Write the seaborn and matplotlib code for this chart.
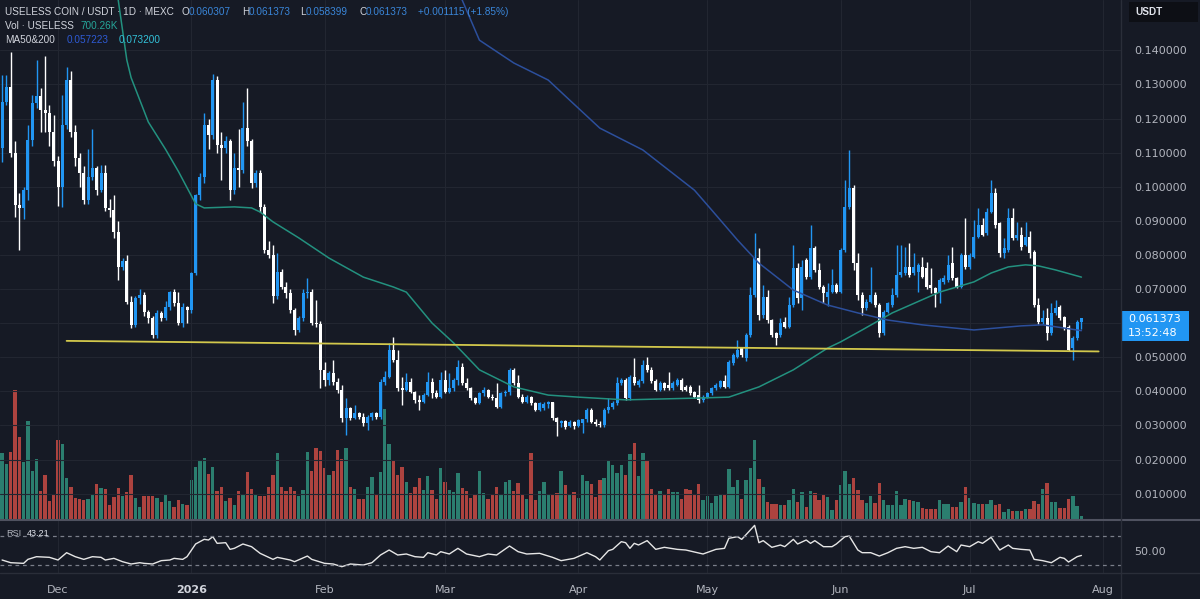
import numpy as np
import pandas as pd
import seaborn as sns
import matplotlib.pyplot as plt
from matplotlib.patches import Rectangle
from matplotlib.lines import Line2D

# Daily candles USELESS/USDT (MEXC), first bar on this date
first_day = '2025-11-18'

open_ = [
    0.1113, 0.1250, 0.1294, 0.1098, 0.0947, 0.0937, 0.0990, 0.1137, 0.1245, 0.1265,
    0.1225, 0.1215, 0.1160, 0.1075, 0.1000, 0.1181, 0.1313, 0.1162, 0.1084, 0.1040,
    0.0961, 0.1030, 0.1054, 0.0991, 0.1040, 0.0937, 0.0932, 0.0868, 0.0766, 0.0781,
    0.0663, 0.0595, 0.0673, 0.0683, 0.0634, 0.0614, 0.0565, 0.0629, 0.0614, 0.0648,
    0.0692, 0.0658, 0.0600, 0.0648, 0.0639, 0.0746, 0.0976, 0.1030, 0.1181, 0.1152,
    0.1313, 0.1123, 0.1113, 0.1133, 0.0991, 0.1054, 0.1049, 0.1172, 0.1133, 0.1010,
    0.1040, 0.0942, 0.0815, 0.0800, 0.0680, 0.0751, 0.0707, 0.0687, 0.0639, 0.0580,
    0.0614, 0.0687, 0.0692, 0.0600, 0.0598, 0.0463, 0.0433, 0.0453, 0.0428, 0.0404,
    0.0321, 0.0350, 0.0321, 0.0336, 0.0326, 0.0306, 0.0326, 0.0336, 0.0326, 0.0428,
    0.0443, 0.0521, 0.0492, 0.0409, 0.0404, 0.0428, 0.0399, 0.0374, 0.0370, 0.0389,
    0.0428, 0.0394, 0.0384, 0.0433, 0.0399, 0.0409, 0.0433, 0.0472, 0.0423, 0.0409,
    0.0379, 0.0365, 0.0394, 0.0404, 0.0384, 0.0379, 0.0355, 0.0394, 0.0399, 0.0463,
    0.0423, 0.0384, 0.0369, 0.0384, 0.0365, 0.0345, 0.0352, 0.0362, 0.0368, 0.0321,
    0.0306, 0.0313, 0.0298, 0.0311, 0.0298, 0.0306, 0.0318, 0.0345, 0.0311, 0.0303,
    0.0301, 0.0345, 0.0355, 0.0365, 0.0424, 0.0433, 0.0380, 0.0443, 0.0419, 0.0429,
    0.0477, 0.0463, 0.0429, 0.0404, 0.0424, 0.0419, 0.0409, 0.0419, 0.0433, 0.0414,
    0.0414, 0.0399, 0.0389, 0.0375, 0.0384, 0.0394, 0.0409, 0.0414, 0.0429, 0.0414,
    0.0482, 0.0502, 0.0526, 0.0497, 0.0565, 0.0683, 0.0790, 0.0624, 0.0678, 0.0609,
    0.0570, 0.0565, 0.0604, 0.0590, 0.0653, 0.0761, 0.0673, 0.0785, 0.0736, 0.0820,
    0.0756, 0.0707, 0.0678, 0.0692, 0.0712, 0.0692, 0.0815, 0.0942, 0.0995, 0.0776,
    0.0682, 0.0643, 0.0663, 0.0682, 0.0653, 0.0570, 0.0634, 0.0653, 0.0682, 0.0741,
    0.0746, 0.0766, 0.0746, 0.0751, 0.0766, 0.0761, 0.0712, 0.0702, 0.0687, 0.0722,
    0.0727, 0.0776, 0.0731, 0.0707, 0.0800, 0.0766, 0.0795, 0.0854, 0.0888, 0.0864,
    0.0927, 0.0981, 0.0893, 0.0805, 0.0815, 0.0907, 0.0849, 0.0859, 0.0829, 0.0854,
    0.0810, 0.0653, 0.0604, 0.0614, 0.0570, 0.0629, 0.0648, 0.0619, 0.0590, 0.0526,
    0.0556, 0.060307,
]
high = [
    0.1328, 0.1328, 0.1396, 0.1133, 0.0981, 0.1000, 0.1180, 0.1270, 0.1372, 0.1290,
    0.1385, 0.1240, 0.1210, 0.1090, 0.1270, 0.1350, 0.1340, 0.1180, 0.1100, 0.1060,
    0.1110, 0.1170, 0.1060, 0.1065, 0.1065, 0.0965, 0.0975, 0.0900, 0.0790, 0.0800,
    0.0680, 0.0680, 0.0700, 0.0690, 0.0640, 0.0620, 0.0640, 0.0635, 0.0665, 0.0695,
    0.0700, 0.0690, 0.0660, 0.0650, 0.0750, 0.0980, 0.1040, 0.1215, 0.1200, 0.1330,
    0.1325, 0.1160, 0.1150, 0.1140, 0.1100, 0.1170, 0.1250, 0.1290, 0.1140, 0.1050,
    0.1050, 0.0950, 0.0840, 0.0830, 0.0805, 0.0760, 0.0720, 0.0700, 0.0645, 0.0620,
    0.0700, 0.0731, 0.0700, 0.0668, 0.0605, 0.0487, 0.0460, 0.0492, 0.0440, 0.0420,
    0.0379, 0.0355, 0.0360, 0.0340, 0.0335, 0.0330, 0.0340, 0.0340, 0.0435, 0.0460,
    0.0541, 0.0560, 0.0520, 0.0443, 0.0453, 0.0438, 0.0400, 0.0389, 0.0395, 0.0458,
    0.0438, 0.0405, 0.0458, 0.0463, 0.0453, 0.0440, 0.0492, 0.0482, 0.0438, 0.0412,
    0.0382, 0.0398, 0.0414, 0.0406, 0.0392, 0.0423, 0.0398, 0.0405, 0.0468, 0.0468,
    0.0448, 0.0392, 0.0388, 0.0387, 0.0368, 0.0370, 0.0368, 0.0372, 0.0370, 0.0325,
    0.0316, 0.0316, 0.0316, 0.0314, 0.0320, 0.0320, 0.0350, 0.0350, 0.0318, 0.0312,
    0.0350, 0.0380, 0.0372, 0.0443, 0.0440, 0.0438, 0.0448, 0.0497, 0.0436, 0.0492,
    0.0502, 0.0470, 0.0435, 0.0430, 0.0427, 0.0458, 0.0430, 0.0440, 0.0438, 0.0418,
    0.0418, 0.0402, 0.0419, 0.0388, 0.0398, 0.0412, 0.0425, 0.0433, 0.0448, 0.0492,
    0.0512, 0.0551, 0.0530, 0.0570, 0.0707, 0.0864, 0.0820, 0.0712, 0.0698, 0.0612,
    0.0575, 0.0614, 0.0619, 0.0678, 0.0830, 0.0776, 0.0785, 0.0790, 0.0888, 0.0825,
    0.0775, 0.0712, 0.0717, 0.0760, 0.0717, 0.0820, 0.1020, 0.1108, 0.1005, 0.0805,
    0.0690, 0.0670, 0.0766, 0.0690, 0.0660, 0.0640, 0.0663, 0.0702, 0.0829, 0.0829,
    0.0824, 0.0834, 0.0805, 0.0776, 0.0795, 0.0780, 0.0761, 0.0706, 0.0731, 0.0740,
    0.0800, 0.0824, 0.0735, 0.0805, 0.0907, 0.0805, 0.0903, 0.0937, 0.0907, 0.0937,
    0.1020, 0.0995, 0.0897, 0.0849, 0.0937, 0.0937, 0.0898, 0.0883, 0.0898, 0.0869,
    0.0815, 0.0673, 0.0640, 0.0643, 0.0658, 0.0668, 0.0653, 0.0622, 0.0595, 0.0562,
    0.0610, 0.061373,
]
low = [
    0.1074, 0.1240, 0.1088, 0.0912, 0.0815, 0.0905, 0.0960, 0.1120, 0.1230, 0.1160,
    0.1160, 0.1120, 0.1060, 0.0945, 0.0940, 0.1170, 0.1145, 0.1060, 0.1000, 0.0950,
    0.0950, 0.1020, 0.0975, 0.0985, 0.0930, 0.0910, 0.0850, 0.0727, 0.0755, 0.0655,
    0.0585, 0.0590, 0.0655, 0.0620, 0.0600, 0.0555, 0.0555, 0.0605, 0.0610, 0.0640,
    0.0650, 0.0595, 0.0590, 0.0600, 0.0630, 0.0740, 0.0960, 0.1010, 0.1110, 0.1140,
    0.1100, 0.1020, 0.1100, 0.0960, 0.0980, 0.1000, 0.1040, 0.1120, 0.0995, 0.1000,
    0.0925, 0.0805, 0.0790, 0.0660, 0.0670, 0.0700, 0.0675, 0.0630, 0.0565, 0.0575,
    0.0605, 0.0675, 0.0595, 0.0590, 0.0409, 0.0415, 0.0418, 0.0420, 0.0395, 0.0310,
    0.0272, 0.0315, 0.0318, 0.0318, 0.0298, 0.0287, 0.0316, 0.0320, 0.0320, 0.0420,
    0.0440, 0.0485, 0.0400, 0.0360, 0.0400, 0.0395, 0.0365, 0.0345, 0.0366, 0.0385,
    0.0379, 0.0380, 0.0380, 0.0395, 0.0395, 0.0400, 0.0420, 0.0418, 0.0405, 0.0375,
    0.0362, 0.0362, 0.0385, 0.0380, 0.0375, 0.0350, 0.0350, 0.0385, 0.0390, 0.0418,
    0.0380, 0.0365, 0.0365, 0.0360, 0.0342, 0.0342, 0.0345, 0.0350, 0.0316, 0.0270,
    0.0296, 0.0290, 0.0294, 0.0290, 0.0294, 0.0277, 0.0310, 0.0306, 0.0298, 0.0296,
    0.0296, 0.0335, 0.0348, 0.0360, 0.0420, 0.0375, 0.0375, 0.0420, 0.0414, 0.0425,
    0.0458, 0.0425, 0.0400, 0.0400, 0.0405, 0.0405, 0.0405, 0.0415, 0.0400, 0.0400,
    0.0390, 0.0380, 0.0365, 0.0370, 0.0380, 0.0390, 0.0405, 0.0410, 0.0410, 0.0410,
    0.0478, 0.0498, 0.0500, 0.0490, 0.0560, 0.0678, 0.0609, 0.0615, 0.0600, 0.0560,
    0.0536, 0.0560, 0.0585, 0.0585, 0.0648, 0.0660, 0.0640, 0.0730, 0.0730, 0.0750,
    0.0700, 0.0658, 0.0650, 0.0688, 0.0688, 0.0688, 0.0810, 0.0935, 0.0756, 0.0668,
    0.0624, 0.0638, 0.0658, 0.0648, 0.0560, 0.0565, 0.0629, 0.0648, 0.0678, 0.0736,
    0.0741, 0.0736, 0.0741, 0.0692, 0.0731, 0.0700, 0.0687, 0.0648, 0.0660, 0.0715,
    0.0722, 0.0727, 0.0702, 0.0702, 0.0760, 0.0760, 0.0790, 0.0850, 0.0855, 0.0860,
    0.0922, 0.0878, 0.0795, 0.0790, 0.0810, 0.0845, 0.0845, 0.0815, 0.0825, 0.0790,
    0.0648, 0.0598, 0.0598, 0.0551, 0.0565, 0.0624, 0.0610, 0.0580, 0.0517, 0.0492,
    0.0550, 0.058399,
]
close = [
    0.1250, 0.1294, 0.1098, 0.0947, 0.0937, 0.0990, 0.1137, 0.1245, 0.1265, 0.1225,
    0.1215, 0.1160, 0.1075, 0.1000, 0.1181, 0.1313, 0.1162, 0.1084, 0.1040, 0.0961,
    0.1030, 0.1054, 0.0991, 0.1040, 0.0937, 0.0932, 0.0868, 0.0766, 0.0781, 0.0663,
    0.0595, 0.0673, 0.0683, 0.0634, 0.0614, 0.0565, 0.0629, 0.0614, 0.0648, 0.0692,
    0.0658, 0.0600, 0.0648, 0.0639, 0.0746, 0.0976, 0.1030, 0.1181, 0.1152, 0.1313,
    0.1123, 0.1113, 0.1133, 0.0991, 0.1054, 0.1049, 0.1172, 0.1133, 0.1010, 0.1040,
    0.0942, 0.0815, 0.0800, 0.0680, 0.0751, 0.0707, 0.0687, 0.0639, 0.0580, 0.0614,
    0.0687, 0.0692, 0.0600, 0.0598, 0.0463, 0.0433, 0.0453, 0.0428, 0.0404, 0.0321,
    0.0350, 0.0321, 0.0336, 0.0326, 0.0306, 0.0326, 0.0336, 0.0326, 0.0428, 0.0443,
    0.0521, 0.0492, 0.0409, 0.0404, 0.0428, 0.0399, 0.0374, 0.0370, 0.0389, 0.0428,
    0.0394, 0.0384, 0.0433, 0.0399, 0.0409, 0.0433, 0.0472, 0.0423, 0.0409, 0.0379,
    0.0365, 0.0394, 0.0404, 0.0384, 0.0379, 0.0355, 0.0394, 0.0399, 0.0463, 0.0423,
    0.0384, 0.0369, 0.0384, 0.0365, 0.0345, 0.0365, 0.0362, 0.0368, 0.0321, 0.0311,
    0.0313, 0.0296, 0.0311, 0.0298, 0.0316, 0.0318, 0.0345, 0.0311, 0.0303, 0.0301,
    0.0345, 0.0355, 0.0365, 0.0424, 0.0433, 0.0380, 0.0443, 0.0424, 0.0429, 0.0477,
    0.0463, 0.0429, 0.0404, 0.0424, 0.0409, 0.0409, 0.0424, 0.0433, 0.0404, 0.0404,
    0.0394, 0.0384, 0.0375, 0.0384, 0.0394, 0.0409, 0.0419, 0.0429, 0.0414, 0.0487,
    0.0507, 0.0521, 0.0507, 0.0565, 0.0683, 0.0790, 0.0624, 0.0678, 0.0609, 0.0565,
    0.0556, 0.0600, 0.0590, 0.0653, 0.0761, 0.0673, 0.0766, 0.0736, 0.0820, 0.0756,
    0.0707, 0.0687, 0.0692, 0.0712, 0.0692, 0.0815, 0.0942, 0.0995, 0.0776, 0.0682,
    0.0643, 0.0663, 0.0682, 0.0653, 0.0570, 0.0634, 0.0658, 0.0682, 0.0741, 0.0751,
    0.0766, 0.0741, 0.0766, 0.0771, 0.0736, 0.0707, 0.0702, 0.0687, 0.0727, 0.0731,
    0.0771, 0.0731, 0.0707, 0.0800, 0.0766, 0.0800, 0.0854, 0.0888, 0.0859, 0.0927,
    0.0981, 0.0888, 0.0805, 0.0819, 0.0907, 0.0849, 0.0859, 0.0824, 0.0854, 0.0805,
    0.0653, 0.0604, 0.0614, 0.0570, 0.0629, 0.0643, 0.0614, 0.0585, 0.0521, 0.0556,
    0.0604, 0.061373,
]
# volume in millions of USELESS
volume_m = [
    11.7, 9.8, 11.8, 22.7, 14.5, 10.1, 17.3, 8.6, 10.7, 5.1,
    7.9, 3.3, 4.4, 14.0, 13.3, 7.3, 5.7, 3.8, 3.7, 3.5,
    3.7, 4.5, 6.3, 5.6, 5.4, 2.5, 4.0, 5.6, 4.2, 4.8,
    7.8, 3.8, 2.3, 4.1, 4.1, 4.1, 3.8, 3.1, 4.5, 3.3,
    2.2, 3.5, 2.8, 2.5, 7.0, 9.2, 10.4, 10.8, 8.0, 9.2,
    5.1, 5.7, 3.3, 3.8, 2.5, 5.1, 4.5, 8.3, 5.4, 4.3,
    4.1, 4.1, 5.7, 7.9, 11.7, 5.8, 5.0, 5.8, 5.1, 4.1,
    5.2, 11.8, 8.5, 12.6, 12.0, 9.1, 7.8, 8.6, 12.2, 10.6,
    12.6, 5.7, 5.4, 3.7, 3.7, 5.7, 7.5, 4.3, 8.3, 19.4,
    13.3, 10.4, 7.9, 9.3, 6.6, 4.7, 5.8, 7.3, 5.2, 7.7,
    5.2, 3.7, 9.1, 6.6, 5.2, 4.8, 8.2, 5.6, 5.0, 3.8,
    4.3, 8.5, 4.7, 3.7, 4.4, 5.8, 4.4, 6.6, 7.0, 5.1,
    6.4, 4.3, 3.7, 11.7, 3.4, 5.0, 6.6, 4.5, 4.3, 4.7,
    8.6, 6.0, 4.3, 4.8, 3.8, 7.8, 6.8, 6.3, 4.0, 6.9,
    7.3, 10.3, 9.5, 8.2, 9.5, 7.9, 11.5, 13.4, 7.6, 11.7,
    10.4, 5.4, 4.3, 5.1, 4.4, 5.4, 4.8, 4.8, 3.7, 5.4,
    5.2, 4.5, 6.3, 3.5, 4.1, 2.9, 4.1, 4.3, 4.5, 8.9,
    5.8, 6.9, 3.7, 6.9, 9.1, 14.0, 7.2, 5.7, 3.1, 2.7,
    2.7, 2.5, 2.5, 3.4, 5.4, 3.1, 4.8, 2.2, 5.0, 4.7,
    3.5, 4.3, 4.0, 1.7, 3.4, 6.0, 8.5, 6.2, 7.3, 5.2,
    3.5, 2.9, 4.1, 2.9, 6.4, 3.4, 2.5, 2.5, 5.0, 2.5,
    3.7, 3.4, 3.3, 3.1, 2.1, 1.9, 1.9, 1.9, 3.5, 2.8,
    2.8, 2.3, 2.3, 3.1, 5.7, 3.8, 2.9, 2.8, 2.8, 2.8,
    3.4, 2.5, 2.7, 1.3, 1.9, 1.6, 1.6, 1.6, 1.9, 1.9,
    3.3, 2.8, 5.4, 6.4, 3.1, 3.1, 2.1, 2.1, 3.7, 4.1,
    2.4, 0.70,
]

# Moving averages
ma50_dates = ['2025-12-14', '2025-12-15', '2025-12-17', '2025-12-18', '2025-12-22', '2025-12-26', '2025-12-29',
              '2026-01-02', '2026-01-04', '2026-01-11', '2026-01-15', '2026-01-17', '2026-01-20', '2026-01-26',
              '2026-02-02', '2026-02-10', '2026-02-17', '2026-02-20', '2026-02-26',
              '2026-03-03', '2026-03-09', '2026-03-17', '2026-03-25',
              '2026-04-01', '2026-04-12', '2026-04-28',
              '2026-05-06', '2026-05-13', '2026-05-21', '2026-05-29',
              '2026-06-01', '2026-06-06', '2026-06-13', '2026-06-24',
              '2026-07-02', '2026-07-06', '2026-07-10', '2026-07-14', '2026-07-17', '2026-07-21', '2026-07-27']
ma50 = [0.1606, 0.1548, 0.1372, 0.1320, 0.1190, 0.1110, 0.1045,
        0.0950, 0.0938, 0.0941, 0.0938, 0.0926, 0.0897, 0.0850,
        0.0791, 0.0735, 0.0706, 0.0691, 0.0600,
        0.0542, 0.0463, 0.0413, 0.0389,
        0.0383, 0.0375, 0.0380,
        0.0383, 0.0413, 0.0463, 0.0527,
        0.0545, 0.0580, 0.0630, 0.0691,
        0.0721, 0.0747, 0.0765, 0.0771, 0.0768, 0.0756, 0.0735]
ma200_dates = ['2026-03-03', '2026-03-09', '2026-03-17', '2026-03-25', '2026-03-30',
               '2026-04-06', '2026-04-16', '2026-04-22', '2026-04-28',
               '2026-05-02', '2026-05-08', '2026-05-13', '2026-05-21', '2026-05-29',
               '2026-06-05', '2026-06-12', '2026-06-20',
               '2026-07-02', '2026-07-13', '2026-07-18', '2026-07-27']
ma200 = [0.1606, 0.1430, 0.1363, 0.1313, 0.1254,
         0.1172, 0.1108, 0.1049, 0.0990,
         0.0932, 0.0844, 0.0776, 0.0697, 0.0653,
         0.0630, 0.0609, 0.0595,
         0.0580, 0.0592, 0.0595, 0.0578]

# RSI (14)
rsi_dates = ['2025-11-18', '2025-11-20', '2025-11-23', '2025-11-24', '2025-11-26', '2025-11-29',
             '2025-12-01', '2025-12-03', '2025-12-05', '2025-12-07', '2025-12-09', '2025-12-11', '2025-12-12',
             '2025-12-14', '2025-12-16', '2025-12-18', '2025-12-20', '2025-12-21', '2025-12-23', '2025-12-25',
             '2025-12-27', '2025-12-28', '2025-12-30', '2025-12-31',
             '2026-01-02', '2026-01-04', '2026-01-05', '2026-01-06', '2026-01-07', '2026-01-09', '2026-01-10',
             '2026-01-11', '2026-01-13', '2026-01-15', '2026-01-17', '2026-01-20', '2026-01-21', '2026-01-24',
             '2026-01-25', '2026-01-28', '2026-01-29',
             '2026-02-01', '2026-02-03', '2026-02-05', '2026-02-07', '2026-02-10', '2026-02-12', '2026-02-14',
             '2026-02-16', '2026-02-18', '2026-02-20', '2026-02-22', '2026-02-24', '2026-02-25', '2026-02-27',
             '2026-02-28',
             '2026-03-02', '2026-03-04', '2026-03-06', '2026-03-09', '2026-03-11', '2026-03-13', '2026-03-16',
             '2026-03-18', '2026-03-20', '2026-03-23', '2026-03-26', '2026-03-28', '2026-03-31',
             '2026-04-03', '2026-04-05', '2026-04-06', '2026-04-08', '2026-04-09', '2026-04-11', '2026-04-12',
             '2026-04-13', '2026-04-14', '2026-04-15', '2026-04-17', '2026-04-19', '2026-04-21', '2026-04-24',
             '2026-04-26', '2026-04-30',
             '2026-05-03', '2026-05-05', '2026-05-06', '2026-05-08', '2026-05-09', '2026-05-12', '2026-05-13',
             '2026-05-14', '2026-05-16', '2026-05-18', '2026-05-19', '2026-05-21', '2026-05-22', '2026-05-24',
             '2026-05-25', '2026-05-26', '2026-05-28', '2026-05-30', '2026-05-31',
             '2026-06-02', '2026-06-03', '2026-06-05', '2026-06-06', '2026-06-08', '2026-06-10', '2026-06-12',
             '2026-06-14', '2026-06-16', '2026-06-18', '2026-06-20', '2026-06-22', '2026-06-24', '2026-06-26',
             '2026-06-28', '2026-06-29',
             '2026-07-01', '2026-07-03', '2026-07-04', '2026-07-06', '2026-07-08', '2026-07-10', '2026-07-11',
             '2026-07-13', '2026-07-15', '2026-07-16', '2026-07-18', '2026-07-20', '2026-07-22', '2026-07-23',
             '2026-07-24', '2026-07-26', '2026-07-27']
rsi = [36.9, 33.2, 32.3, 37.8, 41.5, 40.6,
       36.9, 47.0, 41.5, 37.8, 41.5, 40.6, 36.9,
       39.2, 34.6, 31.4, 33.2, 32.3, 31.4, 36.0,
       36.9, 39.2, 37.8, 41.5,
       59.0, 65.4, 64.5, 69.1, 59.9, 60.8, 51.6,
       53.0, 59.0, 55.3, 46.1, 37.8, 40.6, 36.9,
       34.6, 42.4, 37.8,
       32.3, 31.4, 27.7, 31.4, 30.0, 33.2, 43.8,
       50.7, 43.8, 45.2, 41.5, 40.6, 47.0, 43.8,
       48.4,
       45.2, 53.0, 45.2, 41.5, 45.2, 43.8, 56.2,
       48.4, 45.2, 46.1, 40.6, 36.0, 39.2,
       47.0, 41.5, 36.9, 49.8, 51.6, 62.2, 60.8,
       53.0, 59.9, 57.6, 63.6, 51.6, 54.4, 51.6,
       50.7, 45.2,
       51.6, 53.0, 66.8, 69.1, 65.4, 84.7, 60.8,
       63.6, 54.4, 57.6, 55.3, 65.4, 59.0, 64.5,
       59.9, 63.6, 55.3, 55.3, 59.0,
       69.1, 70.0, 50.7, 47.0, 47.0, 42.4, 47.0,
       53.0, 55.3, 53.0, 54.4, 48.4, 47.0, 56.2,
       48.4, 57.6,
       55.3, 62.2, 59.9, 68.2, 50.7, 57.6, 53.0,
       51.6, 50.7, 37.8, 36.0, 33.2, 40.6, 39.2,
       34.1, 41.5, 43.21]

# Support line drawn on the chart
support_dates = ['2025-12-03', '2026-07-31']
support_prices = [0.0548, 0.0517]

month_dates = ['2025-12-01', '2026-01-01', '2026-02-01', '2026-03-01', '2026-04-01',
               '2026-05-01', '2026-06-01', '2026-07-01', '2026-08-01']
month_labels = ['Dec', '2026', 'Feb', 'Mar', 'Apr', 'May', 'Jun', 'Jul', 'Aug']
price_ticks = [0.01, 0.02, 0.03, 0.04, 0.05, 0.06, 0.07, 0.08, 0.09, 0.10, 0.11, 0.12, 0.13, 0.14]
last_price = 0.061373

# Colours
BG = '#161a25'
GRID = '#222631'
TXT = '#b2b5be'
HEAD = '#d1d4dc'
UP = '#2196f3'
DOWN = '#ffffff'
VOL_UP = '#2b7e6f'
VOL_DOWN = '#ad433f'
MA50_COL = '#23917f'
MA200_COL = '#2c4f9c'
SUPPORT_COL = '#d2c84c'

sns.set_theme(style='dark', rc={'axes.facecolor': BG, 'figure.facecolor': BG, 'savefig.facecolor': BG})
plt.rcParams['font.family'] = ['DejaVu Sans']

W, H = 1200, 599
fig = plt.figure(figsize=(W / 100, H / 100), dpi=100)


def rect(x0, y0, x1, y1):
    # pixel box (top-left origin) -> figure fraction
    return [x0 / W, 1 - y1 / H, (x1 - x0) / W, (y1 - y0) / H]


PANE_R = 1121
PRICE_B = 519.7
RSI_B = 572.7

axv = fig.add_axes(rect(0, 0, PANE_R, PRICE_B))
ax = fig.add_axes(rect(0, 0, PANE_R, PRICE_B), sharex=axv)
ax.patch.set_alpha(0)
axr = fig.add_axes(rect(0, PRICE_B, PANE_R, RSI_B), sharex=axv)

start = pd.Timestamp(first_day)


def to_bar(dates):
    return list((pd.to_datetime(dates) - start).days)


x = np.arange(len(close))
o = np.array(open_)
c = np.array(close)
h = np.array(high)
l = np.array(low)
up = c >= o

# Volume (behind)
axv.bar(x, volume_m, width=0.78, color=np.where(up, VOL_UP, VOL_DOWN), linewidth=0)
axv.set_ylim(0, 91)

# Candles
cols = np.where(up, UP, DOWN)
ax.vlines(x, l, h, colors=cols, linewidth=1, zorder=3)
ax.bar(x, np.maximum(np.abs(c - o), 0.0003), bottom=np.minimum(o, c), width=0.7,
       color=cols, linewidth=0, zorder=4)

# Moving averages and support line
sns.lineplot(x=to_bar(ma50_dates), y=ma50, ax=ax, color=MA50_COL, linewidth=1.1, zorder=5)
sns.lineplot(x=to_bar(ma200_dates), y=ma200, ax=ax, color=MA200_COL, linewidth=1.1, zorder=5)
sns.lineplot(x=to_bar(support_dates), y=support_prices, ax=ax, color=SUPPORT_COL, linewidth=1.3, zorder=6)

ax.set_ylim(0.00235, 0.15478)
ax.set_xlim(-0.49, 260.2)
ax.yaxis.tick_right()
# the 0.06 label sits under the last-price tag
ax.set_yticks(price_ticks, labels=['' if abs(p - last_price) < 0.005 else f'{p:.6f}' for p in price_ticks])
ax.tick_params(axis='y', length=0, pad=9.5, labelsize=8, labelcolor=TXT)
ax.grid(axis='y', color=GRID, linewidth=0.8)
ax.grid(axis='x', color=GRID, linewidth=0.8)
ax.set_axisbelow(True)

axv.set_yticks([])
for a in (ax, axv):
    a.tick_params(axis='x', labelbottom=False, length=0)
    a.set_xlabel('')
    a.set_ylabel('')

# RSI pane
sns.lineplot(x=to_bar(rsi_dates), y=rsi, ax=axr, color='#e6e6e6', linewidth=1.0)
axr.axhline(70, color='#7a7e8a', linewidth=0.9, linestyle=(0, (3, 3)))
axr.axhline(30, color='#7a7e8a', linewidth=0.9, linestyle=(0, (3, 3)))
axr.set_ylim(19.4, 92.5)
axr.yaxis.tick_right()
axr.set_yticks([50], labels=['50.00'])
axr.tick_params(axis='y', length=0, pad=9.5, labelsize=8, labelcolor=TXT)
axr.set_xticks(to_bar(month_dates), labels=month_labels)
axr.tick_params(axis='x', length=0, pad=9, labelsize=8, labelcolor=TXT)
axr.grid(axis='x', color=GRID, linewidth=0.8)
axr.grid(axis='y', visible=False)
axr.set_xlabel('')
axr.set_ylabel('')
for lbl in axr.get_xticklabels():
    if lbl.get_text() == '2026':
        lbl.set_fontweight('bold')
        lbl.set_color(HEAD)

for a in (ax, axv, axr):
    for s in a.spines.values():
        s.set_visible(False)

# Pane separators
fig.add_artist(Line2D([0, 1], [1 - PRICE_B / H] * 2, color='#4f5260', linewidth=1.5))
fig.add_artist(Line2D([0, 1], [1 - RSI_B / H] * 2, color='#2a2e39', linewidth=1))
fig.add_artist(Line2D([PANE_R / W] * 2, [0, 1], color='#2a2e39', linewidth=1))


def ftext(px_x, px_y, s, color, size=7.2, family='Liberation Sans', **kw):
    fig.text(px_x / W, 1 - px_y / H, s, color=color, fontsize=size, family=family,
             va='center', ha='left', **kw)


# Legend / header
VAL = '#3a86d9'
ftext(5, 12, 'USELESS COIN / USDT · 1D · MEXC', HEAD)
for lab, lx, val, vx in [('O', 182, '0.060307', 189), ('H', 242, '0.061373', 249),
                         ('L', 300, '0.058399', 306), ('C', 359, '0.061373', 366)]:
    ftext(lx, 12, lab, HEAD)
    ftext(vx, 12, val, VAL)
ftext(418, 12, '+0.001115 (+1.85%)', VAL)
ftext(5, 26, 'Vol · USELESS', HEAD)
ftext(81, 26, '700.26K', '#26a69a')
ftext(5, 40, 'MA50&200', HEAD)
ftext(67, 40, '0.057223', '#2e5ad4')
ftext(119, 40, '0.073200', '#33c1d8')
ftext(6, 534, 'RSI', TXT, size=6.6)
ftext(27, 534, '43.21', '#e0e3eb', size=6.6)

# Right scale boxes
fig.add_artist(Rectangle((1129 / W, 1 - 22 / H), 69 / W, 20 / H, transform=fig.transFigure,
                         facecolor='#0d0f15', edgecolor='none'))
ftext(1135, 12, 'USDT', '#e0e3eb', size=7.2, weight='bold')
fig.add_artist(Rectangle((1122 / W, 1 - 341 / H), 67 / W, 30 / H, transform=fig.transFigure,
                         facecolor='#2196f3', edgecolor='none'))
ftext(1128, 319.5, '0.061373', 'white', size=8, family='DejaVu Sans')
ftext(1128, 333, '13:52:48', 'white', size=8, family='DejaVu Sans')

fig.savefig('out.png', dpi=100, facecolor=BG)
